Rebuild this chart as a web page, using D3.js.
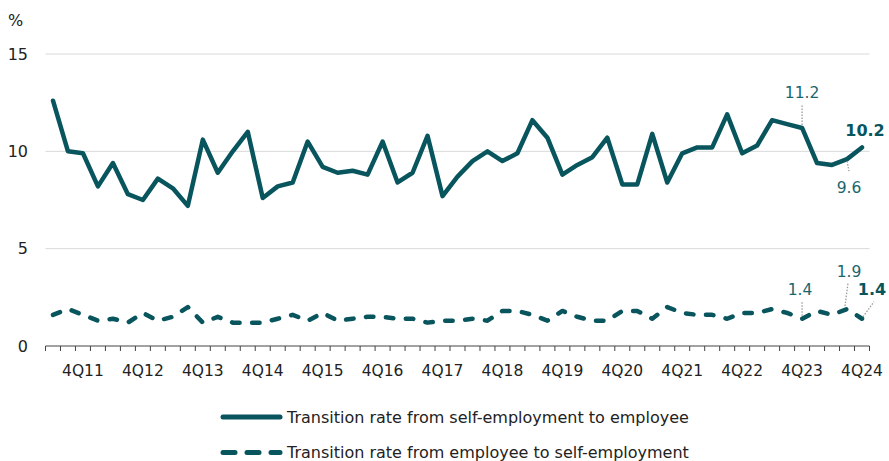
<!DOCTYPE html>
<html>
<head>
<meta charset="utf-8">
<script src="https://cdn.jsdelivr.net/npm/d3@7"></script>
<style>
  html, body { margin: 0; padding: 0; background: #fff; }
  svg { display: block; font-family: "DejaVu Sans", Verdana, sans-serif; }
</style>
</head>
<body>
<svg id="chart" width="889" height="461"></svg>
<script>
// ---------- DATA ----------
const quarters = [];
(function () {
  for (let y = 11; y <= 24; y++) {
    for (let q = 1; q <= 4; q++) {
      if (y === 11 && q === 1) continue;
      quarters.push(q + "Q" + y);
    }
  }
})();

const selfToEmployee = [
  12.6, 10.0, 9.9, 8.2, 9.4, 7.8, 7.5, 8.6, 8.1, 7.2,
  10.6, 8.9, 10.0, 11.0, 7.6, 8.2, 8.4, 10.5, 9.2, 8.9,
  9.0, 8.8, 10.5, 8.4, 8.9, 10.8, 7.7, 8.7, 9.5, 10.0,
  9.5, 9.9, 11.6, 10.7, 8.8, 9.3, 9.7, 10.7, 8.3, 8.3,
  10.9, 8.4, 9.9, 10.2, 10.2, 11.9, 9.9, 10.3, 11.6, 11.4,
  11.2, 9.4, 9.3, 9.6, 10.2
];

const employeeToSelf = [
  1.6, 1.9, 1.6, 1.3, 1.4, 1.2, 1.7, 1.3, 1.5, 2.0,
  1.2, 1.5, 1.2, 1.2, 1.2, 1.4, 1.6, 1.3, 1.7, 1.3,
  1.4, 1.5, 1.5, 1.4, 1.4, 1.2, 1.3, 1.3, 1.4, 1.3,
  1.8, 1.8, 1.6, 1.3, 1.8, 1.5, 1.3, 1.3, 1.8, 1.8,
  1.4, 2.0, 1.7, 1.6, 1.6, 1.4, 1.7, 1.7, 1.9, 1.7,
  1.4, 1.8, 1.6, 1.9, 1.4
];

const yTicks = [0, 5, 10, 15];
const xTickLabels = ["4Q11","4Q12","4Q13","4Q14","4Q15","4Q16","4Q17","4Q18","4Q19","4Q20","4Q21","4Q22","4Q23","4Q24"];
const seriesNames = [
  "Transition rate from self-employment to employee",
  "Transition rate from employee to self-employment"
];

// ---------- CHART ----------
const teal = "#08555e";
const labelTeal = "#1a6670";
const svg = d3.select("#chart");

const x = d3.scaleBand().domain(quarters).range([45.5, 869.5]).padding(0);
const y = d3.scaleLinear().domain([0, 15]).range([346, 54]);
const cx = d => x(d) + x.bandwidth() / 2;

// grid lines
svg.append("g").selectAll("line")
  .data(yTicks.filter(t => t > 0))
  .join("line")
  .attr("x1", x.range()[0]).attr("x2", x.range()[1])
  .attr("y1", d => y(d)).attr("y2", d => y(d))
  .attr("stroke", "#d9d9d9").attr("stroke-width", 1);

// y labels
svg.append("g").selectAll("text")
  .data(yTicks)
  .join("text")
  .attr("x", 28).attr("y", d => y(d))
  .attr("dy", "0.35em")
  .attr("text-anchor", "end")
  .attr("font-size", 16)
  .attr("fill", "#222")
  .text(d => d);

svg.append("text")
  .attr("x", 8).attr("y", 26)
  .attr("font-size", 16).attr("fill", "#222")
  .text("%");

// x axis
const xAxisG = svg.append("g");
xAxisG.append("line")
  .attr("x1", x.range()[0]).attr("x2", x.range()[1])
  .attr("y1", y(0)).attr("y2", y(0))
  .attr("stroke", "#444").attr("stroke-width", 1);
const boundaries = d3.range(quarters.length + 1).map(i => x.range()[0] + i * x.step());
xAxisG.selectAll("line.tick")
  .data(boundaries)
  .join("line")
  .attr("class", "tick")
  .attr("x1", d => d).attr("x2", d => d)
  .attr("y1", y(0)).attr("y2", y(0) + 5)
  .attr("stroke", "#444").attr("stroke-width", 1);
xAxisG.selectAll("text")
  .data(xTickLabels)
  .join("text")
  .attr("x", d => cx(d)).attr("y", y(0) + 30)
  .attr("text-anchor", "middle")
  .attr("font-size", 15.5)
  .attr("fill", "#222")
  .text(d => d);

// lines
const line = d3.line().x((d, i) => cx(quarters[i])).y(d => y(d));
svg.append("path")
  .datum(selfToEmployee)
  .attr("d", line)
  .attr("fill", "none").attr("stroke", teal)
  .attr("stroke-width", 4.5).attr("stroke-linejoin", "round").attr("stroke-linecap", "round");
svg.append("path")
  .datum(employeeToSelf)
  .attr("d", line)
  .attr("fill", "none").attr("stroke", teal)
  .attr("stroke-width", 4.5).attr("stroke-dasharray", "7.5,12.5")
  .attr("stroke-linejoin", "round").attr("stroke-linecap", "round");

// annotations
const n = quarters.length;
function pt(series, i) { return [cx(quarters[i]), y(series[i])]; }
const annG = svg.append("g");
function leader(x1, y1, x2, y2) {
  annG.append("line")
    .attr("x1", x1).attr("y1", y1).attr("x2", x2).attr("y2", y2)
    .attr("stroke", "#9a9a9a").attr("stroke-width", 1.3)
    .attr("stroke-dasharray", "1.5,1.5");
}
function label(tx, ty, txt, bold) {
  annG.append("text")
    .attr("x", tx).attr("y", ty)
    .attr("text-anchor", "middle")
    .attr("font-size", bold ? 16 : 15.5)
    .attr("font-weight", bold ? "bold" : "normal")
    .attr("fill", bold ? teal : labelTeal)
    .text(txt);
}
// solid series
let p = pt(selfToEmployee, n - 5);
leader(p[0], p[1] - 3, p[0], p[1] - 24);
label(p[0], p[1] - 30, selfToEmployee[n - 5].toFixed(1), false);
p = pt(selfToEmployee, n - 2);
leader(p[0], p[1] + 2, p[0] + 2, p[1] + 12);
label(p[0] + 2, p[1] + 34, selfToEmployee[n - 2].toFixed(1), false);
p = pt(selfToEmployee, n - 1);
label(p[0] + 3, p[1] - 11, selfToEmployee[n - 1].toFixed(1), true);
// dashed series
p = pt(employeeToSelf, n - 5);
leader(p[0], p[1] - 3, p[0], p[1] - 18);
label(p[0] - 2, p[1] - 24, employeeToSelf[n - 5].toFixed(1), false);
p = pt(employeeToSelf, n - 2);
leader(p[0] - 2, p[1] - 3, p[0] + 1, p[1] - 26);
label(p[0] + 2, p[1] - 32, employeeToSelf[n - 2].toFixed(1), false);
p = pt(employeeToSelf, n - 1);
leader(p[0] + 1, p[1] - 2, p[0] + 12, p[1] - 17);
label(p[0] + 10, p[1] - 24, employeeToSelf[n - 1].toFixed(1), true);

// legend
const legG = svg.append("g");
const legRows = [{ y: 417, dash: null }, { y: 452.5, dash: "12,12" }];
legRows.forEach((r, i) => {
  legG.append("line")
    .attr("x1", 223).attr("x2", 280)
    .attr("y1", r.y).attr("y2", r.y)
    .attr("stroke", teal).attr("stroke-width", 5)
    .attr("stroke-linecap", "round")
    .attr("stroke-dasharray", r.dash);
  legG.append("text")
    .attr("x", 287).attr("y", r.y)
    .attr("dy", "0.35em")
    .attr("font-size", 16)
    .attr("fill", "#222")
    .text(seriesNames[i]);
});
</script>
</body>
</html>
